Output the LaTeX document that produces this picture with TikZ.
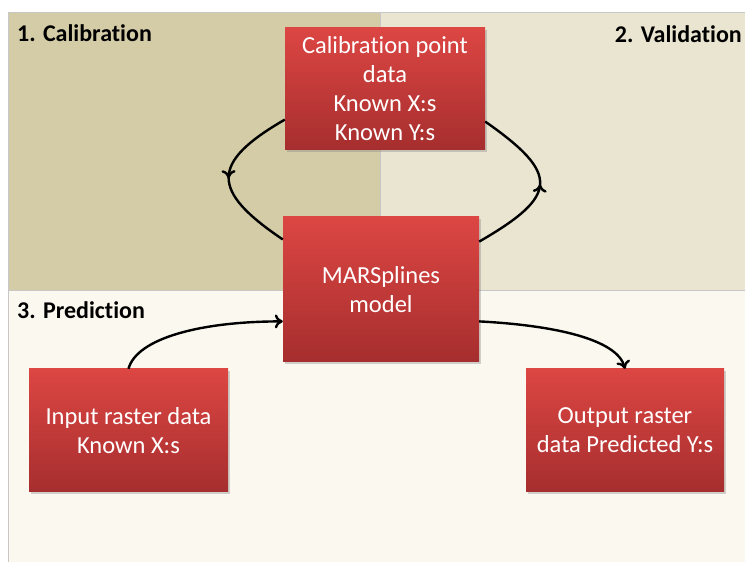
\documentclass[tikz,border=0pt]{standalone}
\usepackage{fontspec}
\setmainfont{Carlito}[Ligatures=NoCommon]
\usetikzlibrary{arrows.meta, decorations.markings, shadows}

\definecolor{calpanel}{HTML}{D3CCA6}
\definecolor{valpanel}{HTML}{E9E5D1}
\definecolor{predpanel}{HTML}{FBF9EF}
\definecolor{boxtop}{HTML}{DC4643}
\definecolor{boxbottom}{HTML}{A62E2E}

\begin{document}
\begin{tikzpicture}[
  x=1pt, y=1pt,
  panel/.style={draw=black!22, line width=0.8pt},
  heading/.style={font=\fontsize{24}{28}\selectfont\bfseries, inner sep=0pt},
  redbox/.style={rectangle, top color=boxtop, bottom color=boxbottom, text=white, align=center,
    font=\fontsize{24.5}{29}\selectfont,
    drop shadow={opacity=0.35, shadow xshift=1.5pt, shadow yshift=-2pt}},
  arrow/.style={-{To[length=8pt, width=14pt]}, line width=2.4pt},
  midarrow/.style={line width=2.4pt, postaction={decorate},
    decoration={markings, mark=at position 0.5 with {\arrow{To[length=8pt, width=14pt]}}}}
]
  \useasboundingbox (0,0) rectangle (745,562);

  % the three stages
  \filldraw[panel, fill=predpanel] (8,0) rectangle (745,272);
  \filldraw[panel, fill=valpanel] (380,272) rectangle (745,550);
  \filldraw[panel, fill=calpanel] (8,272) rectangle (380,550);

  \node[heading, anchor=north west] (calhead) at (17,538) {1. Calibration};
  \node[heading, anchor=north east] (valhead) at (742,537) {2. Validation};
  \node[heading, anchor=north west] (predhead) at (17,261) {3. Prediction};

  \node[redbox, minimum width=200pt, minimum height=122pt] (cal) at (385,473)
    {Calibration point\\data\\Known X:s\\Known Y:s};
  \node[redbox, minimum width=196pt, minimum height=145pt] (mars) at (381,272.5)
    {MARSplines\\model};
  \node[redbox, minimum width=199pt, minimum height=123pt] (input) at (128.5,131.5)
    {Input raster data\\Known X:s};
  \node[redbox, minimum width=198pt, minimum height=123pt] (output) at (625,131.5)
    {Output raster\\data Predicted Y:s};

  \draw[midarrow] (cal.197) to[out=210, in=146, looseness=1.85] (mars.153);
  \draw[midarrow] (mars.26) to[out=30, in=-35, looseness=1.95] (cal.-18);
  \draw[arrow] (input.north) to[out=75, in=180, out looseness=0.5, in looseness=1.3] (mars.198);
  \draw[arrow] (mars.-18) to[out=-3, in=105, out looseness=1.3, in looseness=0.5] (output.north);
\end{tikzpicture}
\end{document}
